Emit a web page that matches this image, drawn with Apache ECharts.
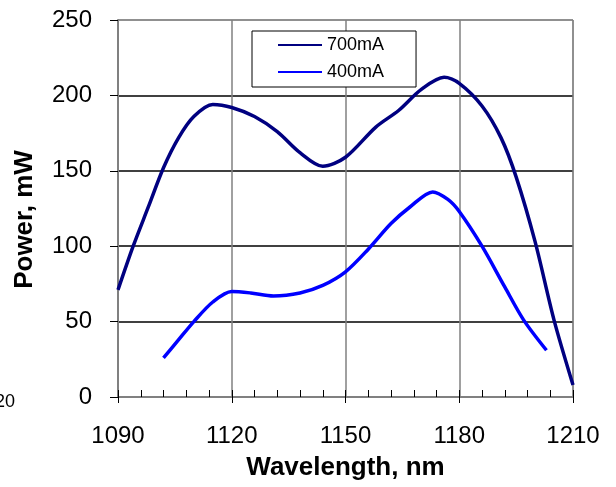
<!DOCTYPE html>
<html>
<head>
<meta charset="utf-8">
<script src="https://cdn.jsdelivr.net/npm/echarts@6/dist/echarts.min.js"></script>
<style>
  html, body { margin: 0; padding: 0; background: #fff; }
  #main { width: 616px; height: 487px; }
</style>
</head>
<body>
<div id="main"></div>
<script>
'use strict'
// power vs wavelength, two pump currents

var wl_700 = [1090, 1094, 1098, 1102, 1106, 1110, 1115, 1120, 1126, 1132, 1138, 1144,
              1150, 1158, 1164, 1170, 1176, 1180, 1186, 1191, 1195, 1200, 1205, 1210];
var pw_700 = [71, 100, 126, 152, 172, 186, 194, 192, 186, 176, 162, 153,
              159, 179, 190, 204, 212, 208, 193, 172, 146, 103, 51, 8];

var wl_400 = [1102, 1106, 1110, 1115, 1120, 1125, 1131, 1138, 1144, 1150,
              1156, 1162, 1167, 1173, 1177, 1180, 1186, 1192, 1197, 1203];
var pw_400 = [26, 38, 50, 63, 70, 69, 67, 69, 74, 83,
              98, 115, 126, 136, 131, 123, 100, 73, 51, 31];

var names = ['700mA', '400mA'];
var colors = ['#000080', '#0000ff'];

function pairs(xs, ys) {
    return xs.map(function (x, i) { return [x, ys[i]]; });
}

var font = '"Liberation Sans", Arial, sans-serif';

var option = {
    animation: false,
    backgroundColor: '#fff',
    color: colors,
    textStyle: { fontFamily: font },
    grid: {
        left: 118,
        right: 43,
        top: 20,
        bottom: 90,
        show: true,
        borderColor: '#808080',
        borderWidth: 1
    },
    legend: {
        orient: 'vertical',
        left: 252,
        top: 31,
        data: names,
        icon: 'rect',
        itemWidth: 44,
        itemHeight: 2,
        itemGap: 9,
        padding: [5, 32, 6, 26],
        borderColor: '#000',
        borderWidth: 1,
        backgroundColor: '#fff',
        lineStyle: { width: 2 },
        textStyle: { fontSize: 18, color: '#000', fontFamily: font }
    },
    xAxis: [
        {
            type: 'value',
            min: 1090,
            max: 1210,
            interval: 30,
            position: 'bottom',
            name: 'Wavelength, nm',
            nameLocation: 'middle',
            nameGap: 58,
            nameTextStyle: { fontSize: 26, fontWeight: 'bold', color: '#000', fontFamily: font },
            axisLine: { lineStyle: { color: '#808080', width: 2 } },
            axisTick: { show: true, inside: false, length: 6, lineStyle: { color: '#000' } },
            axisLabel: {
                fontSize: 24, color: '#000', margin: 27, fontFamily: font,
                formatter: function (v) { return String(v); }
            },
            splitLine: { show: true, lineStyle: { color: '#808080', width: 1.5 } }
        },
        {
            // minor ticks, pointing into the plot
            type: 'value',
            min: 1090,
            max: 1210,
            interval: 6,
            position: 'bottom',
            axisLine: { show: false },
            axisTick: { show: true, inside: true, length: 7, lineStyle: { color: '#000' } },
            axisLabel: { show: false },
            splitLine: { show: false }
        }
    ],
    yAxis: {
        type: 'value',
        min: 0,
        max: 250,
        interval: 50,
        name: 'Power, mW',
        nameLocation: 'middle',
        nameGap: 80,
        nameTextStyle: { fontSize: 26, fontWeight: 'bold', color: '#000', fontFamily: font, padding: [0, 22, 0, 0] },
        axisLine: { show: true, lineStyle: { color: '#808080', width: 2 } },
        axisTick: { show: true, inside: false, length: 8, lineStyle: { color: '#000' } },
        axisLabel: { fontSize: 24, color: '#000', margin: 26, fontFamily: font },
        splitLine: { show: true, lineStyle: { color: ['#000', '#000', '#000', '#000', '#000', '#808080'], width: 1.5 } }
    },
    graphic: [
        {
            type: 'text',
            left: -5,
            top: 393,
            style: { text: '20', fontSize: 18, fill: '#000', fontFamily: font }
        }
    ],
    series: [
        {
            name: names[0],
            type: 'line',
            smooth: 0.3,
            symbol: 'none',
            lineStyle: { width: 3.5, color: colors[0] },
            data: pairs(wl_700, pw_700)
        },
        {
            name: names[1],
            type: 'line',
            smooth: 0.3,
            symbol: 'none',
            lineStyle: { width: 3.5, color: colors[1] },
            data: pairs(wl_400, pw_400)
        }
    ]
};

var myChart = echarts.init(document.getElementById('main'));
myChart.setOption(option);
</script>
</body>
</html>
